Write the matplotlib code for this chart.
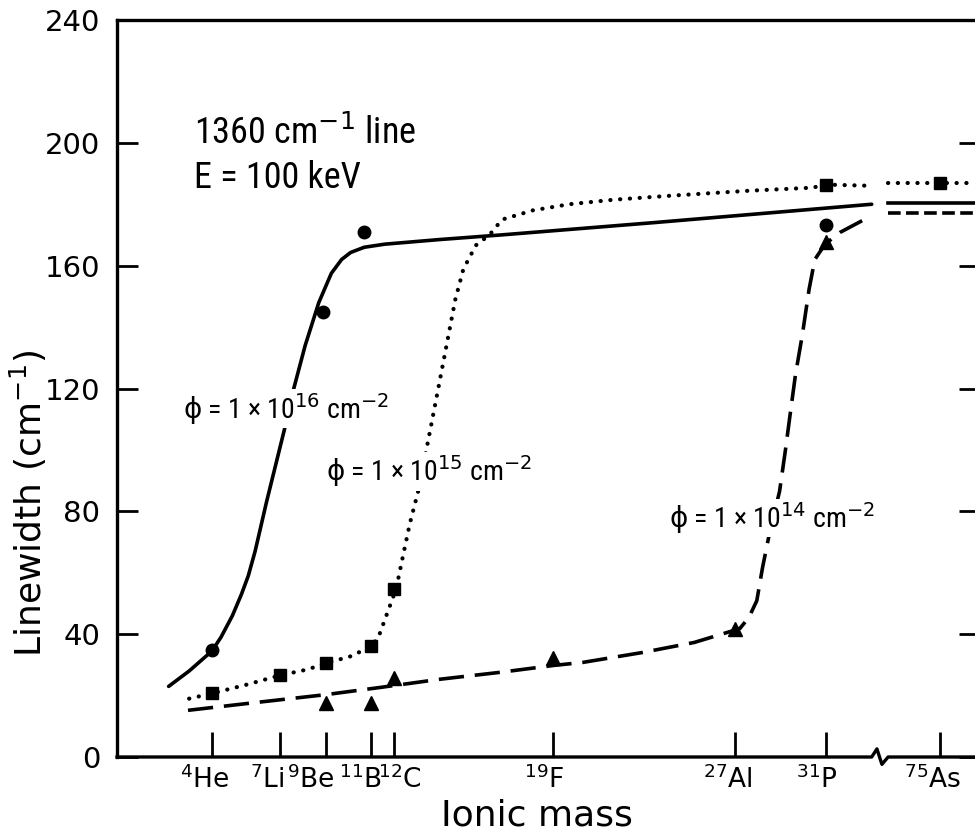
import matplotlib.pyplot as plt
import numpy as np
from matplotlib.transforms import ScaledTranslation

# ion labels on the x axis (mass number, symbol)
ION_MASS = [4, 7, 9, 11, 12, 19, 27, 31, 75]
ION_NAME = ["He", "Li", "Be", "B", "C", "F", "Al", "P", "As"]
# labels in the original are hand-lettered a little off their ticks (px)
LABEL_SHIFT = [-7, -13, -15, -11, 6, -9, -7, -9, -7]

# phi = 1e16 cm^-2 (solid, circles)
PHI16_CURVE_M = [2.1, 3.0, 4.0, 4.4, 4.9, 5.3, 5.6, 5.9, 6.4, 6.9, 7.3, 7.6, 8.1,
                 8.7, 9.25, 9.7, 10.1, 10.7, 11.6, 14.0, 16.7, 23.4, 33.0]
PHI16_CURVE_W = [23, 28, 34.5, 39, 46, 53, 59, 67, 83, 98, 110, 120, 134,
                 148, 157.5, 162, 164.3, 166, 167, 168.5, 170, 174, 180]
PHI16_PTS_M = [4, 8.9, 10.7, 31]
PHI16_PTS_W = [34.7, 145, 171, 173.4]

# phi = 1e15 cm^-2 (dotted, squares)
PHI15_CURVE_M = [3.0, 4.0, 5.5, 7.0, 8.2, 9.0, 10.2, 11.0, 11.3, 11.7, 12.1, 12.4,
                 12.7, 13.1, 13.4, 13.95, 14.4, 14.7, 15.05, 15.6, 16.2, 16.75,
                 18.1, 19.7, 21.7, 24.2, 27.6, 30.4, 31.0, 33.0]
PHI15_CURVE_W = [19, 20.7, 23.5, 26.6, 28.5, 30.5, 33, 36.3, 38.6, 46.7, 54.8, 65.5,
                 76, 87.5, 99, 120, 137.4, 149, 158.8, 166.6, 170, 175,
                 178, 180, 181.5, 182.8, 184.4, 185.4, 186.4, 186]
PHI15_PTS_M = [4, 7, 9, 11, 12, 31, 75]
PHI15_PTS_W = [20.7, 26.6, 30.5, 36.3, 54.8, 186.4, 187]

# phi = 1e14 cm^-2 (dashed, triangles)
PHI14_CURVE_M = [2.95, 6.0, 9.0, 11.45, 14.0, 16.7, 19.0, 20.3, 22.9, 25.2, 27.2,
                 27.6, 27.95, 28.2, 28.5, 28.95, 29.2, 29.45, 29.65, 29.95, 30.25,
                 30.5, 30.95, 31.6, 33.0]
PHI14_CURVE_W = [15.2, 17.8, 20.3, 22.7, 25.3, 27.6, 29.8, 30.8, 34, 37.3, 41.8,
                 45.4, 50.9, 61.6, 72.6, 86.5, 99.5, 113.5, 124.5, 137.4, 152.4,
                 162, 167, 170.8, 176.3]
PHI14_PTS_M = [9, 11, 12, 19, 27, 31]
PHI14_PTS_W = [17.5, 17.5, 25.6, 32.4, 41.8, 167.6]

# levels right of the axis break (heavy ions)
HEAVY_M = [52, 95]
HEAVY_W16 = [180.5, 180.5]
HEAVY_W15 = [187, 187]
HEAVY_W14 = [177, 177]

YTICKS = [0, 40, 80, 120, 160, 200, 240]

# broken axis: masses above the break are squeezed around the As tick
BREAK_AT = 33.0
AS_POS = 36.0


def axis_pos(mass):
    mass = np.asarray(mass, dtype=float)
    return np.where(mass > 40, AS_POS + (mass - 75) * 0.1, mass)


NARROW = ["Roboto Condensed", "DejaVu Sans"]

fig = plt.figure(figsize=(9.75, 8.33), dpi=100)
ax = fig.add_axes([117 / 975, 76 / 833, 863 / 975, 737 / 833])

ax.plot(axis_pos(PHI16_CURVE_M), PHI16_CURVE_W, color="black", lw=2.6,
        solid_capstyle="round")
ax.plot(axis_pos(PHI15_CURVE_M), PHI15_CURVE_W, color="black", lw=3.0,
        linestyle=(0, (0.05, 2.3)), dash_capstyle="round")
ax.plot(axis_pos(PHI14_CURVE_M), PHI14_CURVE_W, color="black", lw=2.6,
        linestyle=(0, (7, 3)))

hx = axis_pos(HEAVY_M)
ax.plot(hx, HEAVY_W16, color="black", lw=2.6)
ax.plot(hx, HEAVY_W15, color="black", lw=3.0, linestyle=(0, (0.05, 2.3)),
        dash_capstyle="round")
ax.plot(hx, HEAVY_W14, color="black", lw=2.6, linestyle=(0, (3.5, 1.5)))

ax.plot(axis_pos(PHI16_PTS_M), PHI16_PTS_W, "o", color="black", ms=9, zorder=4)
ax.plot(axis_pos(PHI15_PTS_M), PHI15_PTS_W, "s", color="black", ms=8.5, zorder=4)
ax.plot(axis_pos(PHI14_PTS_M), PHI14_PTS_W, "^", color="black", ms=10, zorder=4)

ax.set_xlim(-0.17, 37.76)
ax.set_ylim(0, 240)

ax.set_yticks(YTICKS)
ax.set_yticklabels([str(v) for v in YTICKS])
ax.set_xticks(axis_pos(ION_MASS))
ax.set_xticklabels([f"$^{{{m}}}$" + n for m, n in zip(ION_MASS, ION_NAME)])

ax.tick_params(axis="y", direction="in", length=15, width=2, labelsize=21,
               pad=12, left=True, right=True)
ax.tick_params(axis="x", direction="in", length=18, width=2, labelsize=19, pad=6)

for lab, dx in zip(ax.get_xticklabels(), LABEL_SHIFT):
    lab.set_transform(lab.get_transform() + ScaledTranslation(dx / 100, 0, fig.dpi_scale_trans))

for s in ["left", "right", "top"]:
    ax.spines[s].set_linewidth(2.4)
ax.spines["bottom"].set_visible(False)

# bottom spine drawn by hand so it can carry the break mark
tr = ax.get_xaxis_transform()
bx = [-0.17, BREAK_AT, BREAK_AT + 0.23, BREAK_AT + 0.45, BREAK_AT + 0.72, 37.76]
by = [0, 0, 0.011, -0.010, 0, 0]
ax.plot(bx, by, color="black", lw=2.4, transform=tr, clip_on=False, zorder=5)

ax.text(3.2, 203, "1360 cm$^{-1}$ line", family=NARROW, fontsize=26, va="center")
ax.text(3.2, 188.5, "E = 100 keV", family=NARROW, fontsize=26, va="center")

box = dict(facecolor="white", edgecolor="none", pad=1)
for x, y, exp in [(2.75, 113.4, 16), (9.0, 93, 15), (24.1, 77.8, 14)]:
    ax.text(x, y, r"$\mathrm{\phi}$ = 1 × 10$^{%d}$ cm$^{-2}$" % exp, family=NARROW,
            fontsize=20, va="center", bbox=box, zorder=6)

fig.text(537 / 975, 1 - 816 / 833, "Ionic mass", fontsize=26, ha="center", va="center")
fig.text(28 / 975, 1 - 503 / 833, "Linewidth (cm$^{-1}$)", fontsize=26,
         rotation=90, ha="center", va="center")

fig.savefig("out.png", dpi=100)
